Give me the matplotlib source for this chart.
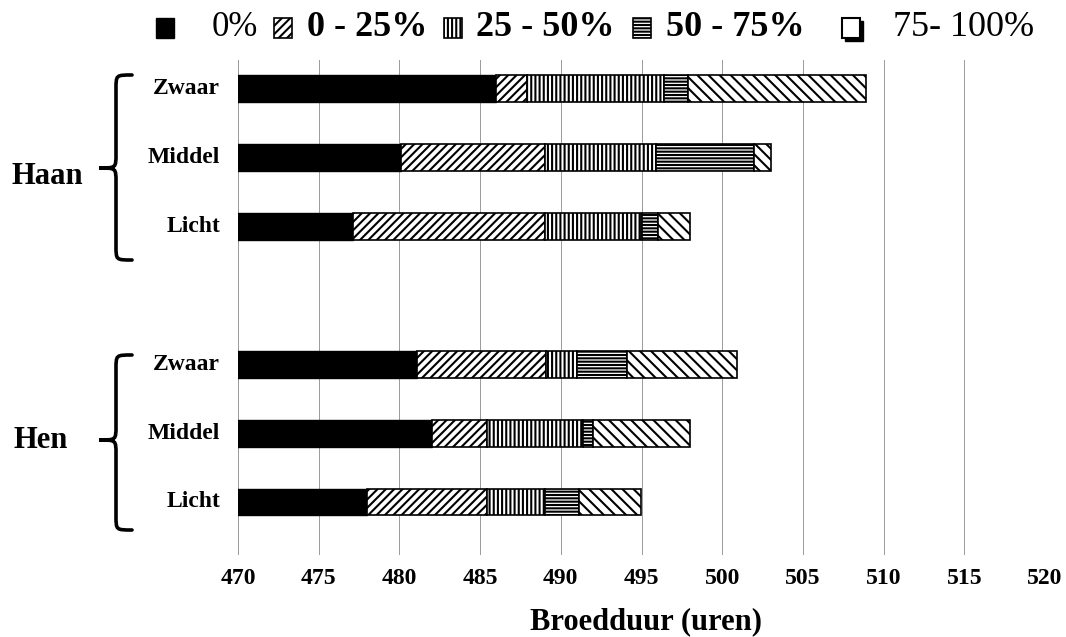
import numpy as np
import matplotlib
matplotlib.use("Agg")
import matplotlib.pyplot as plt
from matplotlib.patches import Rectangle, PathPatch
from matplotlib.path import Path

plt.rcParams['font.family'] = ['Liberation Serif', 'DejaVu Serif']
plt.rcParams['hatch.linewidth'] = 1.5

# ---- data ----
groups = ["Haan", "Hen"]
classes = ["Zwaar", "Middel", "Licht"]
legend_labels = ["0%", "0 - 25%", "25 - 50%", "50 - 75%", "75- 100%"]
# time (h) at which the 0% phase ends, then duration of each following phase
t_0 = [486.0, 480.1, 477.1, 481.1, 482.0, 478.0]
d_0_25 = [1.9, 8.9, 11.9, 8.0, 3.4, 7.4]
d_25_50 = [8.5, 6.9, 6.0, 1.9, 6.0, 3.6]
d_50_75 = [1.5, 6.1, 1.0, 3.1, 0.6, 2.1]
d_75_100 = [11.0, 1.0, 2.0, 6.8, 6.0, 3.9]
xticks = [470, 475, 480, 485, 490, 495, 500, 505, 510, 515, 520]

W, H = 1066, 637
fig = plt.figure(figsize=(W / 100, H / 100), dpi=100)
fig.patch.set_facecolor('white')

def fx(x):
    return x / W

def fy(y):
    return 1 - y / H

ax_top, ax_bot, ax_l, ax_r = 60, 555, 238, 1045
ax = fig.add_axes([fx(ax_l), fy(ax_bot), fx(ax_r) - fx(ax_l), (ax_bot - ax_top) / H])

ypos = np.array([0, 1, 2, 4, 5, 6], dtype=float)
bh = 0.39
series = [t_0, d_0_25, d_25_50, d_50_75, d_75_100]
hatches = [None, '////', '||||', '-----', '\\\\\\']
left = np.zeros(len(ypos))
for i, vals in enumerate(series):
    vals = np.array(vals)
    if i == 0:
        ax.barh(ypos, vals, left=left, height=bh, color='black', edgecolor='black', lw=1, zorder=3)
    else:
        ax.barh(ypos, vals, left=left, height=bh, color='white', edgecolor='black',
                hatch=hatches[i], lw=1.2, zorder=3)
    left = left + vals

ax.set_xlim(470, 520)
ax.set_ylim(6.77, -0.42)
ax.set_xticks(xticks)
ax.set_xticklabels([str(t) for t in xticks], fontsize=17, fontweight='bold')
ax.tick_params(axis='x', length=0, pad=9)
ax.set_yticks([])
for s in ax.spines.values():
    s.set_visible(False)
ax.grid(axis='x', color='#9a9a9a', lw=0.7, zorder=0)
ax.set_axisbelow(True)

# class labels
for g in range(2):
    for c, name in enumerate(classes):
        yy = ypos[g * 3 + c]
        ax.text(-0.022, yy, name, transform=ax.get_yaxis_transform(), ha='right', va='center',
                fontsize=17, fontweight='bold')

# group labels
fig.text(fx(47), fy(176), groups[0], ha='center', va='center', fontsize=22, fontweight='bold')
fig.text(fx(41), fy(440), groups[1], ha='center', va='center', fontsize=22, fontweight='bold')

def brace(x_out, x_in, x_tip, y0, y1, ytip):
    r = 14
    verts = [
        (x_out, y0),
        (x_in, y0), (x_in, y0), (x_in, y0 + r),
        (x_in, ytip - r),
        (x_in, ytip), (x_in, ytip), (x_tip, ytip),
        (x_in, ytip), (x_in, ytip), (x_in, ytip + r),
        (x_in, y1 - r),
        (x_in, y1), (x_in, y1), (x_out, y1),
    ]
    codes = [Path.MOVETO,
             Path.CURVE4, Path.CURVE4, Path.CURVE4,
             Path.LINETO,
             Path.CURVE4, Path.CURVE4, Path.CURVE4,
             Path.CURVE4, Path.CURVE4, Path.CURVE4,
             Path.LINETO,
             Path.CURVE4, Path.CURVE4, Path.CURVE4]
    verts = [(fx(a), fy(b)) for a, b in verts]
    p = PathPatch(Path(verts, codes), transform=fig.transFigure, fill=False, lw=2.6,
                  edgecolor='black', capstyle='round')
    fig.add_artist(p)

brace(132, 116, 99, 75, 260, 168)
brace(132, 116, 99, 355, 530, 440)

# x label
fig.text(fx(646), fy(622), "Broedduur (uren)", ha='center', va='center', fontsize=22, fontweight='bold')

# legend (drawn manually)
box_x = [156, 274, 444, 633, 842]
txt_x = [212, 307, 476, 666, 893]
weights = ['normal', 'bold', 'bold', 'bold', 'normal']
sizes = [25, 26, 26, 26, 26]
ly = 28
bw, bhh = 18, 20
for i, lab in enumerate(legend_labels):
    y_low = fy(ly + bhh / 2)
    if i == 0:
        r = Rectangle((fx(box_x[i]), y_low), bw / W, bhh / H, transform=fig.transFigure,
                      facecolor='black', edgecolor='black')
    elif i == 4:
        sh = Rectangle((fx(box_x[i] + 3), fy(ly + bhh / 2 + 3)), bw / W, bhh / H,
                       transform=fig.transFigure, facecolor='black', edgecolor='black')
        fig.add_artist(sh)
        r = Rectangle((fx(box_x[i]), y_low), bw / W, bhh / H, transform=fig.transFigure,
                      facecolor='white', edgecolor='black', lw=1.5)
    else:
        r = Rectangle((fx(box_x[i]), y_low), bw / W, bhh / H, transform=fig.transFigure,
                      facecolor='white', edgecolor='black', hatch=hatches[i], lw=1.2)
    fig.add_artist(r)
    fig.text(fx(txt_x[i]), fy(ly), lab, ha='left', va='center', fontsize=sizes[i],
             fontweight=weights[i])

fig.savefig("out.png", dpi=100)
